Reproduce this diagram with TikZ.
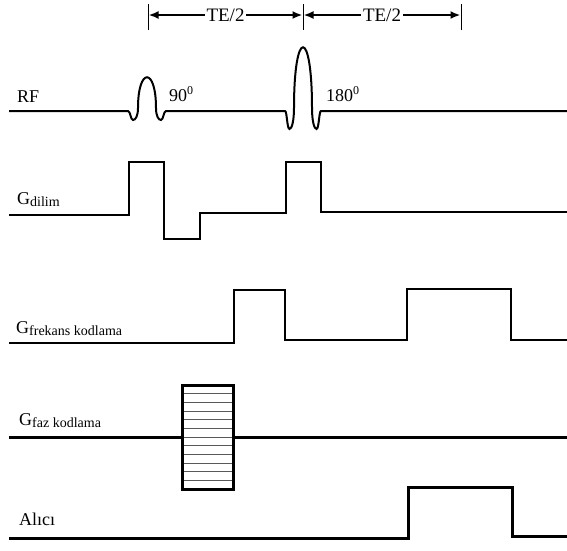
\documentclass[tikz,border=0pt]{standalone}
\usepackage{fontspec}
\setmainfont{Liberation Serif}
\usetikzlibrary{arrows.meta}
\newcommand\subtxt[1]{\raisebox{-2pt}{\fontsize{14}{14}\selectfont #1}}
\newcommand\suptxt[1]{\raisebox{7pt}{\fontsize{12}{12}\selectfont #1}}
\begin{document}
\begin{tikzpicture}[x=1pt,y=-1pt,
  wave/.style={line width=2pt, line join=miter},
  thickwave/.style={line width=3pt, line join=miter},
  lbl/.style={anchor=base west, inner sep=0pt, font=\fontsize{18}{18}\selectfont},
  ticksty/.style={line width=0.8pt},
  dimline/.style={line width=2.6pt, {Latex[length=10pt,width=8pt]}-{Latex[length=10pt,width=8pt]}, shorten <=0.5pt, shorten >=0.5pt},
  dimtxt/.style={fill=white, inner xsep=2pt, inner ysep=0pt, font=\fontsize{19}{19}\selectfont},
  stripe/.style={line width=1pt, black!65},
]
\useasboundingbox (0,0) rectangle (567,550);

% time markers
\coordinate (t1top) at (148,4);   \coordinate (t1bot) at (148,30);
\coordinate (t2top) at (303,4);   \coordinate (t2bot) at (303,30);
\coordinate (t3top) at (461,4);   \coordinate (t3bot) at (461,30);
\draw[ticksty] (t1top) -- (t1bot);
\draw[ticksty] (t2top) -- (t2bot);
\draw[ticksty] (t3top) -- (t3bot);
\coordinate (a1) at (148,15);
\coordinate (a2) at (303,15);
\coordinate (a3) at (461,15);
\draw[dimline] (a1) -- node[dimtxt] (te1) {TE/2} (a2);
\draw[dimline] (a2) -- node[dimtxt] (te2) {TE/2} (a3);

% labels
\node[lbl] (rf) at (17,102) {RF};
\node[lbl] (gd) at (17,204) {G\subtxt{dilim}};
\node[lbl] (gf) at (16,333) {G\subtxt{frekans kodlama}};
\node[lbl] (gp) at (19,425) {G\subtxt{faz kodlama}};
\node[lbl] (al) at (19,525) {Alıcı};
\node[lbl] (p90) at (169,101) {90\suptxt{0}};
\node[lbl] (p180) at (326,101) {180\suptxt{0}};

% RF line with pulses
\draw[wave] (9,111) -- (128,111)
  .. controls (130.5,111) and (130.5,120) .. (133,120)
  .. controls (135.5,120) and (138,116) .. (138,108)
  .. controls (138,67) and (156,67) .. (156,108)
  .. controls (156,116) and (158.5,120) .. (161,120)
  .. controls (163.5,120) and (163.5,111) .. (166,111)
  -- (285,111)
  .. controls (287,111) and (287,129) .. (289.5,129)
  .. controls (292,129) and (294,120) .. (294,108)
  .. controls (294,27) and (312,27) .. (312,108)
  .. controls (312,120) and (314,129) .. (316.5,129)
  .. controls (319,129) and (319,111) .. (321,111)
  -- (567,111);

% slice gradient
\draw[wave] (9,215) -- (129,215) -- (129,162) -- (164,162) -- (164,239)
  -- (200,239) -- (200,213) -- (286,213) -- (286,162) -- (321,162)
  -- (321,212) -- (567,212);

% frequency encoding gradient
\draw[wave] (9,343) -- (234,343) -- (234,290) -- (285,290) -- (285,340)
  -- (407,340) -- (407,289) -- (511,289) -- (511,340) -- (567,340);

% phase encoding gradient
\foreach \i in {1,...,11}
  \draw[stripe] (182,385+\i*8.667) -- (233,385+\i*8.667);
\draw[thickwave] (9,437) -- (182,437);
\draw[thickwave] (233,437) -- (567,437);
\draw[thickwave] (182,385) rectangle (233,489);

% receiver
\draw[thickwave] (9,538) -- (408,538) -- (408,487) -- (512,487) -- (512,536) -- (567,536);
\end{tikzpicture}
\end{document}
